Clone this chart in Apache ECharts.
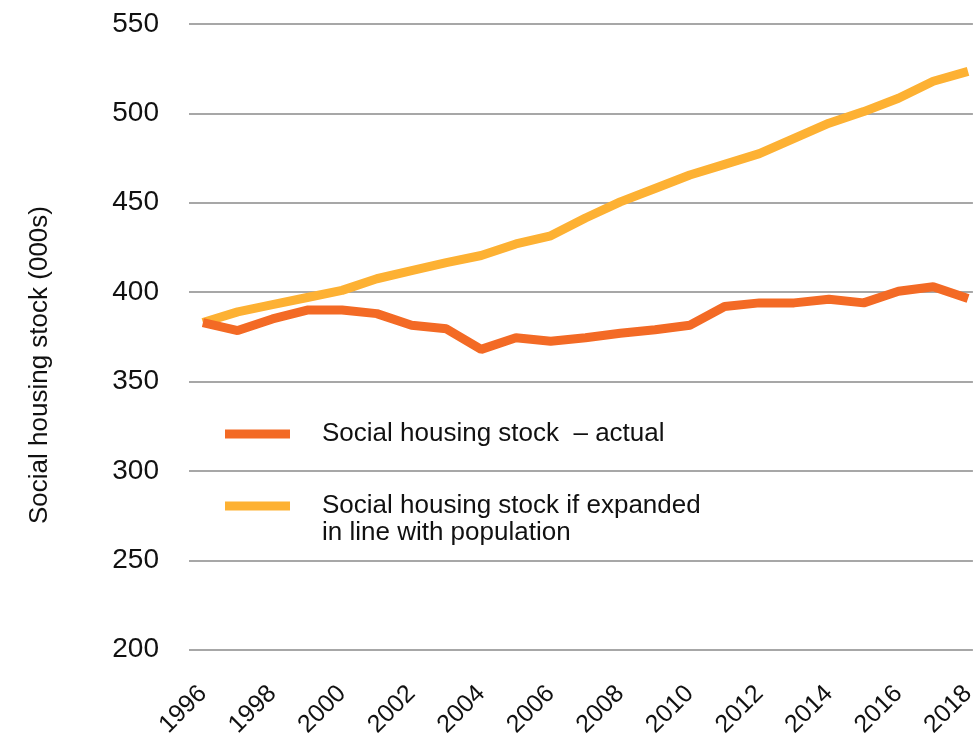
<!DOCTYPE html>
<html>
<head>
<meta charset="utf-8">
<script src="https://cdn.jsdelivr.net/npm/echarts@6/dist/echarts.min.js"></script>
<style>
html,body{margin:0;padding:0;background:#fff;}
#c{width:979px;height:740px;}
</style>
</head>
<body>
<div id="c"></div>
<script>
var years = [1996,1997,1998,1999,2000,2001,2002,2003,2004,2005,2006,2007,2008,2009,2010,2011,2012,2013,2014,2015,2016,2017,2018];
var actual = [383,378.5,385,390,390,388,381.5,379.5,368,374.5,372.5,374.5,377,379,381.5,392,394,394,396,394,400.5,403,396.5];
var expanded = [383,389,393,397,401,407.5,412,416.5,420.5,427,431.5,441.5,450.5,458,465.5,471.5,477.5,486,494.5,501,508.5,518,523.5];
var yearLabels = [1996,1998,2000,2002,2004,2006,2008,2010,2012,2014,2016,2018];
var seriesNames = ['Social housing stock  \u2013 actual', 'Social housing stock if expanded'];
var legendSecondLine = 'in line with population';
var yAxisTitle = 'Social housing stock (000s)';

var FONT = '"Liberation Sans", Arial, Helvetica, sans-serif';
var chart = echarts.init(document.getElementById('c'));
function pairs(vals){ return years.map(function(y,i){ return [y, vals[i]]; }); }
chart.setOption({
  animation: false,
  backgroundColor: '#ffffff',
  grid: {left: 189, right: 0, top: 24, bottom: 90, containLabel: false},
  xAxis: {
    type: 'value', min: 1995.6, max: 2018.14,
    axisLine: {show: false}, axisTick: {show: false}, splitLine: {show: false},
    axisLabel: {
      customValues: yearLabels, rotate: 45, margin: 40,
      color: '#111', fontFamily: FONT, fontSize: 25,
      formatter: function(v){ return String(Math.round(v)); }
    }
  },
  yAxis: {
    type: 'value', min: 200, max: 550, interval: 50,
    axisLine: {show: false}, axisTick: {show: false},
    splitLine: {show: true, lineStyle: {color: '#8a8a8a', width: 1.5}},
    axisLabel: {margin: 30, color: '#111', fontFamily: FONT, fontSize: 28}
  },
  legend: [
    {data: [seriesNames[0]], left: 220, top: 414, icon: 'rect', itemWidth: 65, itemHeight: 9,
     textStyle: {fontFamily: FONT, fontSize: 26, color: '#111', lineHeight: 30, padding: [0,0,0,27]}},
    {data: [seriesNames[1]], left: 220, top: 486, icon: 'rect', itemWidth: 65, itemHeight: 9,
     textStyle: {fontFamily: FONT, fontSize: 26, color: '#111', lineHeight: 30, padding: [0,0,0,27]}}
  ],
  graphic: [
    {type: 'text', left: 322, top: 520, style: {text: legendSecondLine, fontFamily: FONT, fontSize: 26, fill: '#111'}},
    {type: 'text', x: 40, y: 365, rotation: Math.PI/2,
     style: {text: yAxisTitle, fontFamily: FONT, fontSize: 26, fill: '#111', align: 'center', verticalAlign: 'middle'}}
  ],
  series: [
    {name: seriesNames[1], type: 'line', data: pairs(expanded), showSymbol: false, symbol: 'none',
     lineStyle: {color: '#FDB133', width: 9}, itemStyle: {color: '#FDB133'}, z: 2},
    {name: seriesNames[0], type: 'line', data: pairs(actual), showSymbol: false, symbol: 'none',
     lineStyle: {color: '#F36A25', width: 9}, itemStyle: {color: '#F36A25'}, z: 3}
  ]
});
</script>
</body>
</html>
